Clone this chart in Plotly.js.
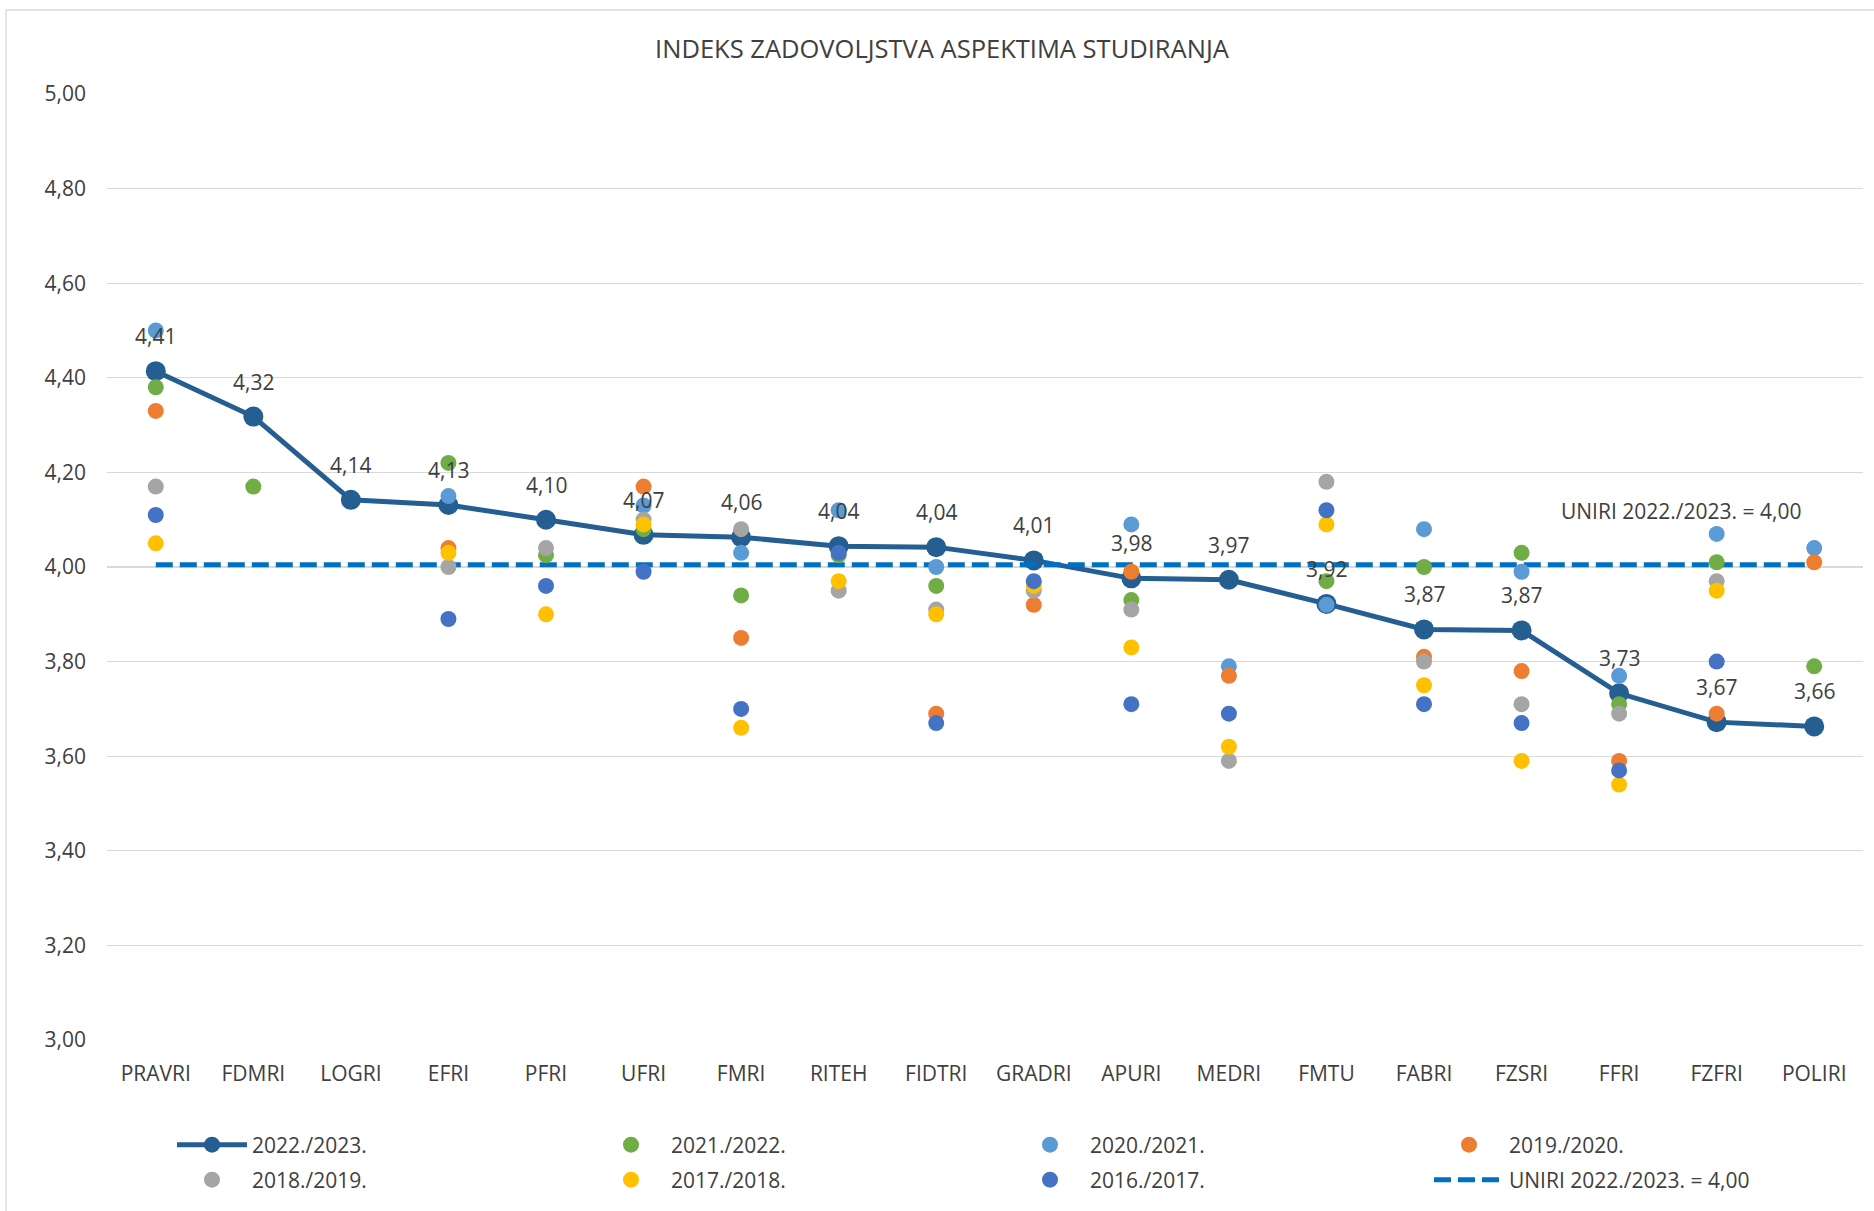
<!DOCTYPE html>
<html>
<head>
<meta charset="utf-8">
<script src="https://cdn.plot.ly/plotly-3.0.1.min.js"></script>
<style>
html,body{margin:0;padding:0;background:#fff;}
#chart{width:1874px;height:1211px;}
</style>
</head>
<body>
<div id="chart"></div>
<script>
// ---- DATA ----
const categories = ['PRAVRI','FDMRI','LOGRI','EFRI','PFRI','UFRI','FMRI','RITEH','FIDTRI','GRADRI','APURI','MEDRI','FMTU','FABRI','FZSRI','FFRI','FZFRI','POLIRI'];

const y2022_23 = [4.414, 4.318, 4.142, 4.131, 4.100, 4.068, 4.063, 4.044, 4.042, 4.014, 3.976, 3.973, 3.922, 3.868, 3.866, 3.733, 3.672, 3.663];
const y2021_22 = [4.38, 4.17, null, 4.22, 4.025, 4.08, 3.94, 4.025, 3.96, null, 3.93, null, 3.97, 4.00, 4.03, 3.71, 4.01, 3.79];
const y2020_21 = [4.50, null, null, 4.15, null, 4.13, 4.03, 4.12, 4.00, null, 4.09, 3.79, 3.92, 4.08, 3.99, 3.77, 4.07, 4.04];
const y2019_20 = [4.33, null, null, 4.04, null, 4.17, 3.85, null, 3.69, 3.92, 3.99, 3.77, null, 3.81, 3.78, 3.59, 3.69, 4.01];
const y2018_19 = [4.17, null, null, 4.00, 4.04, 4.10, 4.08, 3.95, 3.91, 3.95, 3.91, 3.59, 4.18, 3.80, 3.71, 3.69, 3.97, null];
const y2017_18 = [4.05, null, null, 4.03, 3.90, 4.09, 3.66, 3.97, 3.90, 3.96, 3.83, 3.62, 4.09, 3.75, 3.59, 3.54, 3.95, null];
const y2016_17 = [4.11, null, null, 3.89, 3.96, 3.99, 3.70, 4.03, 3.67, 3.97, 3.71, 3.69, 4.12, 3.71, 3.67, 3.57, 3.80, null];
const uniri    = [4.005, 4.005, 4.005, 4.005, 4.005, 4.005, 4.005, 4.005, 4.005, 4.005, 4.005, 4.005, 4.005, 4.005, 4.005, 4.005, 4.005, 4.005];

const seriesNames = ['2022./2023.','2021./2022.','2020./2021.','2019./2020.','2018./2019.','2017./2018.','2016./2017.'];
const uniriName = 'UNIRI 2022./2023. = 4,00';
const titleText = 'INDEKS ZADOVOLJSTVA ASPEKTIMA STUDIRANJA';

// ---- STYLE ----
const fontFam = '"Open Sans", "Segoe UI", sans-serif';
const txtColor = '#404040';
const colors = {
  main: '#255E91', green: '#70AD47', lblue: '#5B9BD5', orange: '#ED7D31',
  gray: '#A5A5A5', yellow: '#FFC000', dblue: '#4472C4', uniri: '#0070C0'
};
const dotSize = 16;

function dots(y, name, color, legend, rank) {
  return {
    type: 'scatter', mode: 'markers', x: categories, y: y, name: name,
    marker: {size: dotSize, color: color},
    legend: legend, legendrank: rank, hoverinfo: 'x+y+name'
  };
}

const traces = [
  {
    type: 'scatter', mode: 'lines+markers', x: categories, y: y2022_23, name: seriesNames[0],
    line: {color: colors.main, width: 5},
    marker: {size: 20, color: colors.main},
    legend: 'legend', legendrank: 1
  },
  {
    type: 'scatter', mode: 'lines', x: categories, y: uniri, name: uniriName,
    line: {color: colors.uniri, width: 5, dash: '17px,7px'},
    legend: 'legend2', legendrank: 8
  },
  dots(y2021_22, seriesNames[1], colors.green, 'legend', 2),
  dots(y2020_21, seriesNames[2], colors.lblue, 'legend', 3),
  dots(y2019_20, seriesNames[3], colors.orange, 'legend', 4),
  dots(y2018_19, seriesNames[4], colors.gray, 'legend2', 5),
  dots(y2017_18, seriesNames[5], colors.yellow, 'legend2', 6),
  dots(y2016_17, seriesNames[6], colors.dblue, 'legend2', 7)
];

const fmt = v => v.toFixed(2).replace('.', ',');

const annotations = categories.map((c, i) => ({
  x: c, y: y2022_23[i], xref: 'x', yref: 'y',
  text: fmt(y2022_23[i]), showarrow: false,
  xanchor: 'center', yanchor: 'middle', yshift: 35,
  font: {family: fontFam, size: 21, color: txtColor}
}));
annotations.push({
  x: categories[16], y: uniri[16], xref: 'x', yref: 'y',
  text: uniriName, showarrow: false, xanchor: 'center', yanchor: 'middle',
  xshift: -36, yshift: 54,
  font: {family: fontFam, size: 21, color: txtColor}
});

const legendBase = {
  orientation: 'h', xref: 'container', yref: 'container',
  x: 172/1874, xanchor: 'left', yanchor: 'middle',
  entrywidth: 334, entrywidthmode: 'pixels', itemwidth: 70,
  font: {family: fontFam, size: 21, color: txtColor},
  bgcolor: 'rgba(0,0,0,0)', traceorder: 'normal'
};

const layout = {
  width: 1874, height: 1211,
  margin: {l: 107, r: 11, t: 94, b: 171},
  paper_bgcolor: '#ffffff', plot_bgcolor: '#ffffff',
  font: {family: fontFam, size: 21, color: txtColor},
  separators: ',.',
  title: {
    text: titleText, font: {family: fontFam, size: 25.5, color: txtColor},
    x: 942/1874, xref: 'container', xanchor: 'center',
    y: 1 - 49/1211, yref: 'container', yanchor: 'middle'
  },
  xaxis: {
    type: 'category', categoryarray: categories, categoryorder: 'array',
    range: [-0.5, 17.5], showgrid: false, zeroline: false, showline: false,
    ticks: '', ticklabelstandoff: 19, tickfont: {family: fontFam, size: 21, color: txtColor}
  },
  yaxis: {
    range: [3, 5], tick0: 3, dtick: 0.2, tickformat: '.2f',
    gridcolor: '#D9D9D9', gridwidth: 1.3, zeroline: false, showline: false,
    ticks: '', ticklabelstandoff: 20, tickfont: {family: fontFam, size: 21, color: txtColor}
  },
  showlegend: true,
  legend: Object.assign({}, legendBase, {y: 1 - 1145/1211}),
  legend2: Object.assign({}, legendBase, {y: 1 - 1180/1211}),
  shapes: [{
    type: 'rect', xref: 'paper', yref: 'paper', layer: 'below',
    x0: (6 - 107)/1756, x1: 1.1, y0: -0.3, y1: 1 + (94 - 10)/946,
    line: {color: '#D9D9D9', width: 1.3}, fillcolor: 'rgba(0,0,0,0)'
  }],
  annotations: annotations
};

Plotly.newPlot('chart', traces, layout, {displayModeBar: false, staticPlot: true});
</script>
</body>
</html>
